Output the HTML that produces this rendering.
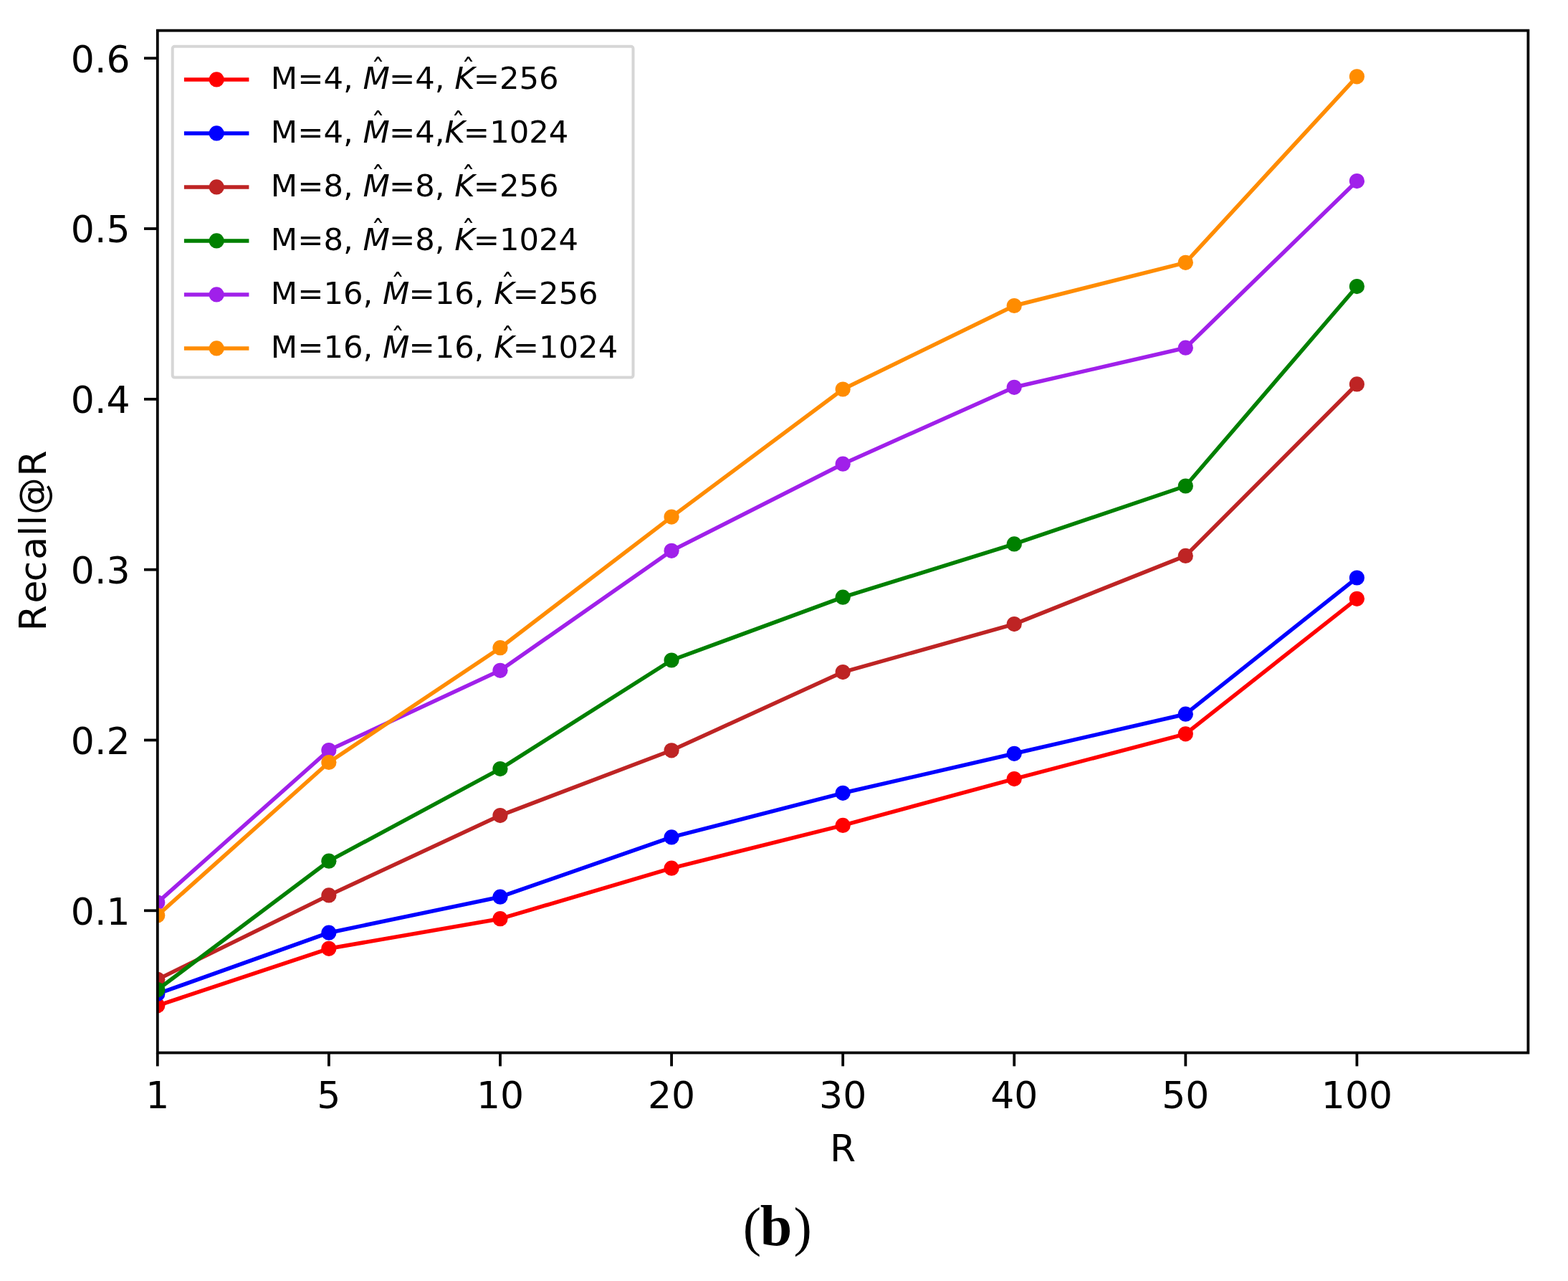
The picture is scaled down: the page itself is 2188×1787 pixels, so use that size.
<!DOCTYPE html>
<html><head><meta charset="utf-8"><title>Recall@R</title><style>html,body{margin:0;padding:0;background:#fff;}svg{display:block;}</style></head><body>
<svg width="2188" height="1787" viewBox="0 0 2188 1787">
<rect x="0" y="0" width="2188" height="1787" fill="#ffffff"/>
<defs><clipPath id="ax"><rect x="219.8" y="42.6" width="1912.60" height="1426.00"/></clipPath></defs>
<g clip-path="url(#ax)">
<polyline points="219.80,1402.80 458.89,1323.30 697.98,1281.70 937.07,1211.20 1176.16,1151.40 1415.25,1086.60 1654.34,1023.80 1893.43,835.30" fill="none" stroke="#ff0000" stroke-width="5.5" stroke-linejoin="round" stroke-linecap="square"/>
<circle cx="219.80" cy="1402.80" r="10.6" fill="#ff0000"/>
<circle cx="458.89" cy="1323.30" r="10.6" fill="#ff0000"/>
<circle cx="697.98" cy="1281.70" r="10.6" fill="#ff0000"/>
<circle cx="937.07" cy="1211.20" r="10.6" fill="#ff0000"/>
<circle cx="1176.16" cy="1151.40" r="10.6" fill="#ff0000"/>
<circle cx="1415.25" cy="1086.60" r="10.6" fill="#ff0000"/>
<circle cx="1654.34" cy="1023.80" r="10.6" fill="#ff0000"/>
<circle cx="1893.43" cy="835.30" r="10.6" fill="#ff0000"/>
<polyline points="219.80,1386.40 458.89,1301.20 697.98,1251.20 937.07,1167.90 1176.16,1106.30 1415.25,1051.30 1654.34,996.20 1893.43,806.00" fill="none" stroke="#0000ff" stroke-width="5.5" stroke-linejoin="round" stroke-linecap="square"/>
<circle cx="219.80" cy="1386.40" r="10.6" fill="#0000ff"/>
<circle cx="458.89" cy="1301.20" r="10.6" fill="#0000ff"/>
<circle cx="697.98" cy="1251.20" r="10.6" fill="#0000ff"/>
<circle cx="937.07" cy="1167.90" r="10.6" fill="#0000ff"/>
<circle cx="1176.16" cy="1106.30" r="10.6" fill="#0000ff"/>
<circle cx="1415.25" cy="1051.30" r="10.6" fill="#0000ff"/>
<circle cx="1654.34" cy="996.20" r="10.6" fill="#0000ff"/>
<circle cx="1893.43" cy="806.00" r="10.6" fill="#0000ff"/>
<polyline points="219.80,1366.30 458.89,1248.90 697.98,1137.60 937.07,1046.80 1176.16,937.60 1415.25,870.60 1654.34,775.40 1893.43,535.90" fill="none" stroke="#be2424" stroke-width="5.5" stroke-linejoin="round" stroke-linecap="square"/>
<circle cx="219.80" cy="1366.30" r="10.6" fill="#be2424"/>
<circle cx="458.89" cy="1248.90" r="10.6" fill="#be2424"/>
<circle cx="697.98" cy="1137.60" r="10.6" fill="#be2424"/>
<circle cx="937.07" cy="1046.80" r="10.6" fill="#be2424"/>
<circle cx="1176.16" cy="937.60" r="10.6" fill="#be2424"/>
<circle cx="1415.25" cy="870.60" r="10.6" fill="#be2424"/>
<circle cx="1654.34" cy="775.40" r="10.6" fill="#be2424"/>
<circle cx="1893.43" cy="535.90" r="10.6" fill="#be2424"/>
<polyline points="219.80,1380.70 458.89,1201.20 697.98,1072.60 937.07,921.00 1176.16,833.20 1415.25,758.90 1654.34,678.00 1893.43,399.60" fill="none" stroke="#008000" stroke-width="5.5" stroke-linejoin="round" stroke-linecap="square"/>
<circle cx="219.80" cy="1380.70" r="10.6" fill="#008000"/>
<circle cx="458.89" cy="1201.20" r="10.6" fill="#008000"/>
<circle cx="697.98" cy="1072.60" r="10.6" fill="#008000"/>
<circle cx="937.07" cy="921.00" r="10.6" fill="#008000"/>
<circle cx="1176.16" cy="833.20" r="10.6" fill="#008000"/>
<circle cx="1415.25" cy="758.90" r="10.6" fill="#008000"/>
<circle cx="1654.34" cy="678.00" r="10.6" fill="#008000"/>
<circle cx="1893.43" cy="399.60" r="10.6" fill="#008000"/>
<polyline points="219.80,1259.00 458.89,1046.50 697.98,935.30 937.07,768.30 1176.16,647.20 1415.25,540.30 1654.34,485.20 1893.43,252.60" fill="none" stroke="#a020ea" stroke-width="5.5" stroke-linejoin="round" stroke-linecap="square"/>
<circle cx="219.80" cy="1259.00" r="10.6" fill="#a020ea"/>
<circle cx="458.89" cy="1046.50" r="10.6" fill="#a020ea"/>
<circle cx="697.98" cy="935.30" r="10.6" fill="#a020ea"/>
<circle cx="937.07" cy="768.30" r="10.6" fill="#a020ea"/>
<circle cx="1176.16" cy="647.20" r="10.6" fill="#a020ea"/>
<circle cx="1415.25" cy="540.30" r="10.6" fill="#a020ea"/>
<circle cx="1654.34" cy="485.20" r="10.6" fill="#a020ea"/>
<circle cx="1893.43" cy="252.60" r="10.6" fill="#a020ea"/>
<polyline points="219.80,1277.00 458.89,1063.50 697.98,903.70 937.07,721.10 1176.16,543.00 1415.25,426.50 1654.34,366.30 1893.43,106.80" fill="none" stroke="#ff8c00" stroke-width="5.5" stroke-linejoin="round" stroke-linecap="square"/>
<circle cx="219.80" cy="1277.00" r="10.6" fill="#ff8c00"/>
<circle cx="458.89" cy="1063.50" r="10.6" fill="#ff8c00"/>
<circle cx="697.98" cy="903.70" r="10.6" fill="#ff8c00"/>
<circle cx="937.07" cy="721.10" r="10.6" fill="#ff8c00"/>
<circle cx="1176.16" cy="543.00" r="10.6" fill="#ff8c00"/>
<circle cx="1415.25" cy="426.50" r="10.6" fill="#ff8c00"/>
<circle cx="1654.34" cy="366.30" r="10.6" fill="#ff8c00"/>
<circle cx="1893.43" cy="106.80" r="10.6" fill="#ff8c00"/>
</g>
<rect x="219.8" y="42.6" width="1912.60" height="1426.00" fill="none" stroke="#000" stroke-width="3.8" stroke-linejoin="miter"/>
<line x1="201.00" y1="1270.30" x2="219.80" y2="1270.30" stroke="#000" stroke-width="3.8"/>
<text x="181.5" y="1289.60" text-anchor="end" font-family="'DejaVu Sans', 'Liberation Sans', sans-serif" font-size="52" fill="#000">0.1</text>
<line x1="201.00" y1="1032.48" x2="219.80" y2="1032.48" stroke="#000" stroke-width="3.8"/>
<text x="181.5" y="1051.78" text-anchor="end" font-family="'DejaVu Sans', 'Liberation Sans', sans-serif" font-size="52" fill="#000">0.2</text>
<line x1="201.00" y1="794.66" x2="219.80" y2="794.66" stroke="#000" stroke-width="3.8"/>
<text x="181.5" y="813.96" text-anchor="end" font-family="'DejaVu Sans', 'Liberation Sans', sans-serif" font-size="52" fill="#000">0.3</text>
<line x1="201.00" y1="556.84" x2="219.80" y2="556.84" stroke="#000" stroke-width="3.8"/>
<text x="181.5" y="576.14" text-anchor="end" font-family="'DejaVu Sans', 'Liberation Sans', sans-serif" font-size="52" fill="#000">0.4</text>
<line x1="201.00" y1="319.02" x2="219.80" y2="319.02" stroke="#000" stroke-width="3.8"/>
<text x="181.5" y="338.32" text-anchor="end" font-family="'DejaVu Sans', 'Liberation Sans', sans-serif" font-size="52" fill="#000">0.5</text>
<line x1="201.00" y1="81.20" x2="219.80" y2="81.20" stroke="#000" stroke-width="3.8"/>
<text x="181.5" y="100.50" text-anchor="end" font-family="'DejaVu Sans', 'Liberation Sans', sans-serif" font-size="52" fill="#000">0.6</text>
<line x1="219.80" y1="1468.60" x2="219.80" y2="1487.40" stroke="#000" stroke-width="3.8"/>
<text x="219.80" y="1546" text-anchor="middle" font-family="'DejaVu Sans', 'Liberation Sans', sans-serif" font-size="52" fill="#000">1</text>
<line x1="458.89" y1="1468.60" x2="458.89" y2="1487.40" stroke="#000" stroke-width="3.8"/>
<text x="458.89" y="1546" text-anchor="middle" font-family="'DejaVu Sans', 'Liberation Sans', sans-serif" font-size="52" fill="#000">5</text>
<line x1="697.98" y1="1468.60" x2="697.98" y2="1487.40" stroke="#000" stroke-width="3.8"/>
<text x="697.98" y="1546" text-anchor="middle" font-family="'DejaVu Sans', 'Liberation Sans', sans-serif" font-size="52" fill="#000">10</text>
<line x1="937.07" y1="1468.60" x2="937.07" y2="1487.40" stroke="#000" stroke-width="3.8"/>
<text x="937.07" y="1546" text-anchor="middle" font-family="'DejaVu Sans', 'Liberation Sans', sans-serif" font-size="52" fill="#000">20</text>
<line x1="1176.16" y1="1468.60" x2="1176.16" y2="1487.40" stroke="#000" stroke-width="3.8"/>
<text x="1176.16" y="1546" text-anchor="middle" font-family="'DejaVu Sans', 'Liberation Sans', sans-serif" font-size="52" fill="#000">30</text>
<line x1="1415.25" y1="1468.60" x2="1415.25" y2="1487.40" stroke="#000" stroke-width="3.8"/>
<text x="1415.25" y="1546" text-anchor="middle" font-family="'DejaVu Sans', 'Liberation Sans', sans-serif" font-size="52" fill="#000">40</text>
<line x1="1654.34" y1="1468.60" x2="1654.34" y2="1487.40" stroke="#000" stroke-width="3.8"/>
<text x="1654.34" y="1546" text-anchor="middle" font-family="'DejaVu Sans', 'Liberation Sans', sans-serif" font-size="52" fill="#000">50</text>
<line x1="1893.43" y1="1468.60" x2="1893.43" y2="1487.40" stroke="#000" stroke-width="3.8"/>
<text x="1893.43" y="1546" text-anchor="middle" font-family="'DejaVu Sans', 'Liberation Sans', sans-serif" font-size="52" fill="#000">100</text>
<text x="1176.1" y="1619.5" text-anchor="middle" font-family="'DejaVu Sans', 'Liberation Sans', sans-serif" font-size="52" fill="#000">R</text>
<text transform="translate(64,752) rotate(-90)" x="-128.13 -89.40 -59.15 -28.76 4.01 18.66 34.10 87.60" y="0" font-family="'DejaVu Sans', 'Liberation Sans', sans-serif" font-size="52" fill="#000">Recall@R</text>
<rect x="240.7" y="64.7" width="642.8" height="461.9" rx="3" ry="3" fill="#ffffff" fill-opacity="0.8" stroke="#d6d6d6" stroke-width="4"/>
<line x1="256.9" y1="110.90" x2="347.4" y2="110.90" stroke="#ff0000" stroke-width="5.5"/>
<circle cx="302.2" cy="110.90" r="10.6" fill="#ff0000"/>
<text y="124.00" font-family="'DejaVu Sans', 'Liberation Sans', sans-serif" font-size="43.3" fill="#000"><tspan x="377.80">M=4,&#160;</tspan><tspan x="506.52" font-style="italic">M</tspan><tspan x="542.88">=4,&#160;</tspan><tspan x="634.23" font-style="italic">K</tspan><tspan x="660.63">=256</tspan></text>
<text x="527.57" y="108.70" text-anchor="middle" font-family="'DejaVu Sans', 'Liberation Sans', sans-serif" font-size="38" fill="#000">&#710;</text>
<text x="653.38" y="108.70" text-anchor="middle" font-family="'DejaVu Sans', 'Liberation Sans', sans-serif" font-size="38" fill="#000">&#710;</text>
<line x1="256.9" y1="185.90" x2="347.4" y2="185.90" stroke="#0000ff" stroke-width="5.5"/>
<circle cx="302.2" cy="185.90" r="10.6" fill="#0000ff"/>
<text y="199.00" font-family="'DejaVu Sans', 'Liberation Sans', sans-serif" font-size="43.3" fill="#000"><tspan x="377.80">M=4,&#160;</tspan><tspan x="506.52" font-style="italic">M</tspan><tspan x="542.88">=4,</tspan><tspan x="620.47" font-style="italic">K</tspan><tspan x="646.86">=1024</tspan></text>
<text x="527.57" y="183.70" text-anchor="middle" font-family="'DejaVu Sans', 'Liberation Sans', sans-serif" font-size="38" fill="#000">&#710;</text>
<text x="639.62" y="183.70" text-anchor="middle" font-family="'DejaVu Sans', 'Liberation Sans', sans-serif" font-size="38" fill="#000">&#710;</text>
<line x1="256.9" y1="260.90" x2="347.4" y2="260.90" stroke="#be2424" stroke-width="5.5"/>
<circle cx="302.2" cy="260.90" r="10.6" fill="#be2424"/>
<text y="274.00" font-family="'DejaVu Sans', 'Liberation Sans', sans-serif" font-size="43.3" fill="#000"><tspan x="377.80">M=8,&#160;</tspan><tspan x="506.52" font-style="italic">M</tspan><tspan x="542.88">=8,&#160;</tspan><tspan x="634.23" font-style="italic">K</tspan><tspan x="660.63">=256</tspan></text>
<text x="527.57" y="258.70" text-anchor="middle" font-family="'DejaVu Sans', 'Liberation Sans', sans-serif" font-size="38" fill="#000">&#710;</text>
<text x="653.38" y="258.70" text-anchor="middle" font-family="'DejaVu Sans', 'Liberation Sans', sans-serif" font-size="38" fill="#000">&#710;</text>
<line x1="256.9" y1="335.90" x2="347.4" y2="335.90" stroke="#008000" stroke-width="5.5"/>
<circle cx="302.2" cy="335.90" r="10.6" fill="#008000"/>
<text y="349.00" font-family="'DejaVu Sans', 'Liberation Sans', sans-serif" font-size="43.3" fill="#000"><tspan x="377.80">M=8,&#160;</tspan><tspan x="506.52" font-style="italic">M</tspan><tspan x="542.88">=8,&#160;</tspan><tspan x="634.23" font-style="italic">K</tspan><tspan x="660.63">=1024</tspan></text>
<text x="527.57" y="333.70" text-anchor="middle" font-family="'DejaVu Sans', 'Liberation Sans', sans-serif" font-size="38" fill="#000">&#710;</text>
<text x="653.38" y="333.70" text-anchor="middle" font-family="'DejaVu Sans', 'Liberation Sans', sans-serif" font-size="38" fill="#000">&#710;</text>
<line x1="256.9" y1="410.90" x2="347.4" y2="410.90" stroke="#a020ea" stroke-width="5.5"/>
<circle cx="302.2" cy="410.90" r="10.6" fill="#a020ea"/>
<text y="424.00" font-family="'DejaVu Sans', 'Liberation Sans', sans-serif" font-size="43.3" fill="#000"><tspan x="377.80">M=16,&#160;</tspan><tspan x="534.07" font-style="italic">M</tspan><tspan x="570.42">=16,&#160;</tspan><tspan x="689.33" font-style="italic">K</tspan><tspan x="715.72">=256</tspan></text>
<text x="555.12" y="408.70" text-anchor="middle" font-family="'DejaVu Sans', 'Liberation Sans', sans-serif" font-size="38" fill="#000">&#710;</text>
<text x="708.48" y="408.70" text-anchor="middle" font-family="'DejaVu Sans', 'Liberation Sans', sans-serif" font-size="38" fill="#000">&#710;</text>
<line x1="256.9" y1="485.90" x2="347.4" y2="485.90" stroke="#ff8c00" stroke-width="5.5"/>
<circle cx="302.2" cy="485.90" r="10.6" fill="#ff8c00"/>
<text y="499.00" font-family="'DejaVu Sans', 'Liberation Sans', sans-serif" font-size="43.3" fill="#000"><tspan x="377.80">M=16,&#160;</tspan><tspan x="534.07" font-style="italic">M</tspan><tspan x="570.42">=16,&#160;</tspan><tspan x="689.33" font-style="italic">K</tspan><tspan x="715.72">=1024</tspan></text>
<text x="555.12" y="483.70" text-anchor="middle" font-family="'DejaVu Sans', 'Liberation Sans', sans-serif" font-size="38" fill="#000">&#710;</text>
<text x="708.48" y="483.70" text-anchor="middle" font-family="'DejaVu Sans', 'Liberation Sans', sans-serif" font-size="38" fill="#000">&#710;</text>
<text y="1736.8" font-family="'Liberation Serif', serif" fill="#000"><tspan x="1036.7" font-size="76">(</tspan><tspan x="1060.8" font-size="80" font-weight="bold">b</tspan><tspan x="1107.5" font-size="76">)</tspan></text>
</svg>
</body></html>
